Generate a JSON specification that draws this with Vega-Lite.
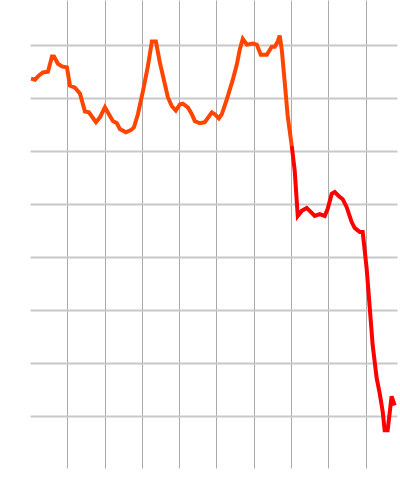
{
  "$schema": "https://vega.github.io/schema/vega-lite/v6.json",
  "width": 367,
  "height": 468,
  "autosize": {"type": "none"},
  "padding": {"left": 30, "top": 0, "right": 3, "bottom": 32},
  "background": "white",
  "config": {"view": {"stroke": null}},
  "data": {"values": [
    {"x": 0.27, "y": 73.6, "s": "a"},
    {"x": 1.34, "y": 73.4, "s": "a"},
    {"x": 2.41, "y": 74.2, "s": "a"},
    {"x": 3.48, "y": 74.75, "s": "a"},
    {"x": 4.82, "y": 74.9, "s": "a"},
    {"x": 5.89, "y": 77.75, "s": "a"},
    {"x": 6.43, "y": 77.75, "s": "a"},
    {"x": 7.5, "y": 76.4, "s": "a"},
    {"x": 8.57, "y": 75.9, "s": "a"},
    {"x": 9.91, "y": 75.7, "s": "a"},
    {"x": 10.71, "y": 72.3, "s": "a"},
    {"x": 12.05, "y": 71.9, "s": "a"},
    {"x": 13.39, "y": 70.8, "s": "a"},
    {"x": 14.73, "y": 67.4, "s": "a"},
    {"x": 15.8, "y": 67.25, "s": "a"},
    {"x": 17.68, "y": 65.4, "s": "a"},
    {"x": 18.75, "y": 66.3, "s": "a"},
    {"x": 20.09, "y": 68.2, "s": "a"},
    {"x": 21.16, "y": 66.9, "s": "a"},
    {"x": 22.23, "y": 65.6, "s": "a"},
    {"x": 23.3, "y": 65.2, "s": "a"},
    {"x": 24.1, "y": 64.1, "s": "a"},
    {"x": 25.7, "y": 63.5, "s": "a"},
    {"x": 27.05, "y": 63.9, "s": "a"},
    {"x": 27.86, "y": 64.4, "s": "a"},
    {"x": 28.93, "y": 66.9, "s": "a"},
    {"x": 30.27, "y": 71.2, "s": "a"},
    {"x": 31.6, "y": 75.9, "s": "a"},
    {"x": 32.68, "y": 80.6, "s": "a"},
    {"x": 33.75, "y": 80.6, "s": "a"},
    {"x": 34.82, "y": 76.6, "s": "a"},
    {"x": 35.89, "y": 73.4, "s": "a"},
    {"x": 36.96, "y": 70.1, "s": "a"},
    {"x": 38.04, "y": 68.4, "s": "a"},
    {"x": 39.1, "y": 67.6, "s": "a"},
    {"x": 40.18, "y": 68.75, "s": "a"},
    {"x": 40.98, "y": 68.9, "s": "a"},
    {"x": 42.32, "y": 68.2, "s": "a"},
    {"x": 43.39, "y": 66.9, "s": "a"},
    {"x": 44.2, "y": 65.6, "s": "a"},
    {"x": 45.54, "y": 65.2, "s": "a"},
    {"x": 46.88, "y": 65.4, "s": "a"},
    {"x": 48.75, "y": 67.25, "s": "a"},
    {"x": 49.55, "y": 66.9, "s": "a"},
    {"x": 50.63, "y": 66.1, "s": "a"},
    {"x": 51.43, "y": 66.9, "s": "a"},
    {"x": 52.77, "y": 69.7, "s": "a"},
    {"x": 54.38, "y": 73.4, "s": "a"},
    {"x": 55.45, "y": 76.25, "s": "a"},
    {"x": 56.25, "y": 79.1, "s": "a"},
    {"x": 57.05, "y": 81.1, "s": "a"},
    {"x": 58.13, "y": 80.0, "s": "a"},
    {"x": 59.73, "y": 80.2, "s": "a"},
    {"x": 60.8, "y": 80.0, "s": "a"},
    {"x": 61.88, "y": 78.1, "s": "a"},
    {"x": 63.48, "y": 78.1, "s": "a"},
    {"x": 64.82, "y": 79.6, "s": "a"},
    {"x": 65.63, "y": 79.6, "s": "a"},
    {"x": 66.43, "y": 80.6, "s": "a"},
    {"x": 66.96, "y": 81.7, "s": "a"},
    {"x": 67.5, "y": 79.1, "s": "a"},
    {"x": 68.3, "y": 72.9, "s": "a"},
    {"x": 69.1, "y": 66.5, "s": "a"},
    {"x": 70.18, "y": 60.9, "s": "a"},
    {"x": 70.18, "y": 60.9, "s": "b"},
    {"x": 70.98, "y": 56.2, "s": "b"},
    {"x": 71.79, "y": 47.75, "s": "b"},
    {"x": 72.86, "y": 48.7, "s": "b"},
    {"x": 74.2, "y": 49.25, "s": "b"},
    {"x": 75.0, "y": 48.7, "s": "b"},
    {"x": 76.34, "y": 47.75, "s": "b"},
    {"x": 77.68, "y": 48.1, "s": "b"},
    {"x": 79.02, "y": 47.75, "s": "b"},
    {"x": 79.82, "y": 49.1, "s": "b"},
    {"x": 80.89, "y": 51.9, "s": "b"},
    {"x": 81.7, "y": 52.25, "s": "b"},
    {"x": 82.77, "y": 51.5, "s": "b"},
    {"x": 83.84, "y": 50.9, "s": "b"},
    {"x": 84.91, "y": 49.4, "s": "b"},
    {"x": 86.25, "y": 46.6, "s": "b"},
    {"x": 87.05, "y": 45.5, "s": "b"},
    {"x": 88.39, "y": 44.75, "s": "b"},
    {"x": 89.2, "y": 44.75, "s": "b"},
    {"x": 90.27, "y": 37.8, "s": "b"},
    {"x": 91.07, "y": 30.7, "s": "b"},
    {"x": 91.88, "y": 23.4, "s": "b"},
    {"x": 92.95, "y": 17.2, "s": "b"},
    {"x": 93.75, "y": 14.4, "s": "b"},
    {"x": 94.55, "y": 11.0, "s": "b"},
    {"x": 95.09, "y": 7.4, "s": "b"},
    {"x": 95.89, "y": 7.4, "s": "b"},
    {"x": 96.96, "y": 13.8, "s": "b"},
    {"x": 97.77, "y": 12.1, "s": "b"}
  ]},
  "mark": {"type": "line", "strokeWidth": 4, "clip": true},
  "encoding": {
    "x": {"field": "x", "type": "quantitative",
      "scale": {"domain": [0, 98.4], "nice": false, "zero": false},
      "axis": {"title": null, "labels": false, "ticks": false, "domain": false, "grid": true,
        "values": [10, 20, 30, 40, 50, 60, 70, 80, 90], "gridColor": "#aaaaaa", "gridWidth": 1, "gridOpacity": 1}},
    "y": {"field": "y", "type": "quantitative",
      "scale": {"domain": [0.3, 88.4], "nice": false, "zero": false},
      "axis": {"title": null, "labels": false, "ticks": false, "domain": false, "grid": true,
        "values": [10, 20, 30, 40, 50, 60, 70, 80], "gridColor": "#c8c8c8", "gridWidth": 2, "gridOpacity": 1}},
    "color": {"field": "s", "type": "nominal",
      "scale": {"domain": ["a", "b"], "range": ["#ff4500", "#ff0000"]}, "legend": null},
    "order": {"field": "x", "type": "quantitative"}
  }
}
